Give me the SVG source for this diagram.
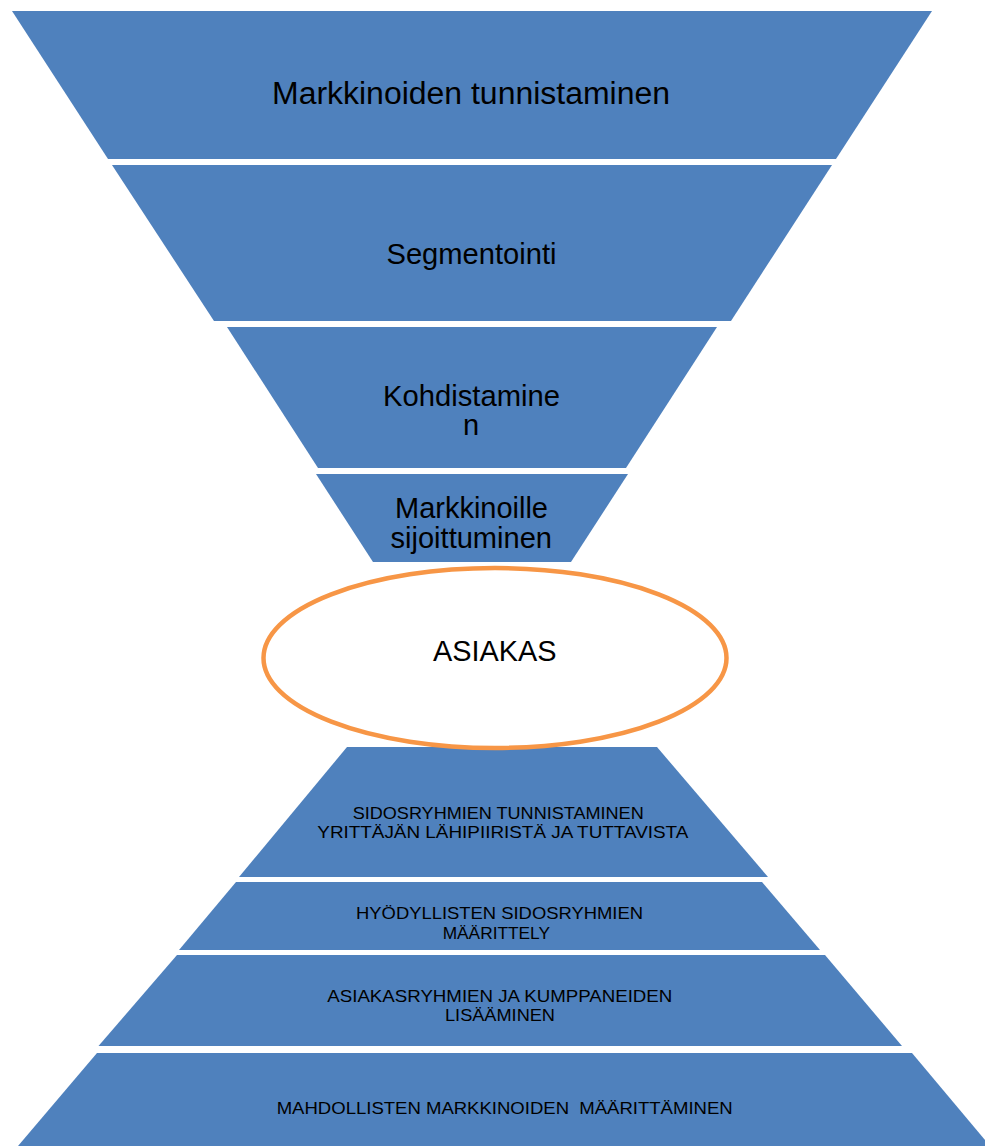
<svg xmlns="http://www.w3.org/2000/svg" width="985" height="1146" viewBox="0 0 985 1146">
<style>
.band{fill:#4F81BD;}
.t{font-family:"Liberation Sans",Arial,sans-serif;fill:#000;}
.big{font-size:29px;}
.sm{font-size:16.5px;}
</style>
<rect width="985" height="1146" fill="#fff"/>
<g id="funnel-1">
<polygon class="band" points="12,11 932,11 836,159 108,159"/>
<text class="t" x="272" y="104" font-size="31" textLength="398" lengthAdjust="spacingAndGlyphs">Markkinoiden tunnistaminen</text>
</g>
<g id="funnel-2">
<polygon class="band" points="112,165 832,165 731,321 214,321"/>
<text class="t big" x="386.5" y="264" textLength="170" lengthAdjust="spacingAndGlyphs">Segmentointi</text>
</g>
<g id="funnel-3">
<polygon class="band" points="227,327 717,327 626,468 318,468"/>
<text class="t big" x="383" y="406" textLength="177" lengthAdjust="spacingAndGlyphs">Kohdistamine</text>
<text class="t big" x="471" y="435" text-anchor="middle">n</text>
</g>
<g id="funnel-4">
<polygon class="band" points="316,474 628,474 571,562 373,562"/>
<text class="t big" x="395" y="518" textLength="153" lengthAdjust="spacingAndGlyphs">Markkinoille</text>
<text class="t big" x="390.5" y="547.5" textLength="161.5" lengthAdjust="spacingAndGlyphs">sijoittuminen</text>
</g>
<g id="pyramid-1">
<polygon class="band" points="347,747 657,747 768,877 239,877"/>
<text class="t sm" x="352.7" y="819" textLength="291" lengthAdjust="spacingAndGlyphs">SIDOSRYHMIEN TUNNISTAMINEN</text>
<text class="t sm" x="317.3" y="838.3" textLength="371" lengthAdjust="spacingAndGlyphs">YRITTÄJÄN LÄHIPIIRISTÄ JA TUTTAVISTA</text>
</g>
<g id="pyramid-2">
<polygon class="band" points="236,882 762,882 820,950 179,950"/>
<text class="t sm" x="356" y="919.3" textLength="287" lengthAdjust="spacingAndGlyphs">HYÖDYLLISTEN SIDOSRYHMIEN</text>
<text class="t sm" x="442.7" y="939.3" textLength="107.3" lengthAdjust="spacingAndGlyphs">MÄÄRITTELY</text>
</g>
<g id="pyramid-3">
<polygon class="band" points="177,955 825,955 902,1046 98.5,1046"/>
<text class="t sm" x="327.3" y="1002.3" textLength="345" lengthAdjust="spacingAndGlyphs">ASIAKASRYHMIEN JA KUMPPANEIDEN</text>
<text class="t sm" x="445" y="1021" textLength="110" lengthAdjust="spacingAndGlyphs">LISÄÄMINEN</text>
</g>
<g id="pyramid-4">
<polygon class="band" points="97,1053 912,1053 990,1146 18,1146"/>
<text class="t sm" x="276.7" y="1114.3" textLength="456" lengthAdjust="spacingAndGlyphs" xml:space="preserve">MAHDOLLISTEN MARKKINOIDEN  MÄÄRITTÄMINEN</text>
</g>
<g id="asiakas">
<ellipse cx="495" cy="658" rx="231.5" ry="90" fill="#fff" stroke="#F79646" stroke-width="4.5"/>
<text class="t big" x="433" y="661" textLength="123.5" lengthAdjust="spacingAndGlyphs">ASIAKAS</text>
</g>
<g id="connectors"></g>
</svg>
